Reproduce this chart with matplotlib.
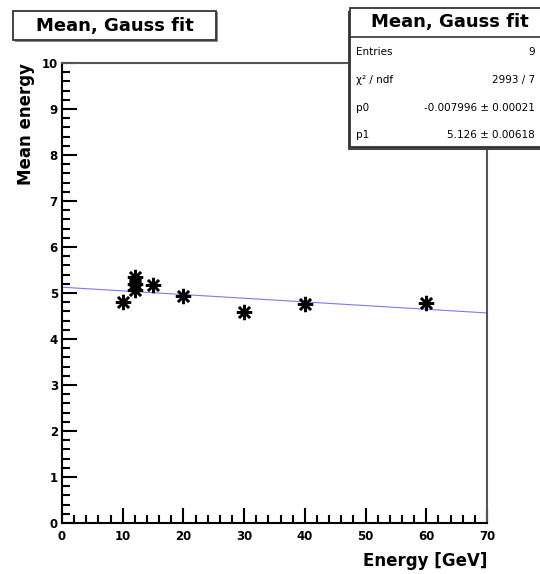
import matplotlib
matplotlib.use("Agg")
import matplotlib.pyplot as plt
from matplotlib.patches import Rectangle
from matplotlib.ticker import MultipleLocator
import numpy as np

# Measured mean energy per beam energy
energy = [10, 12, 12, 12, 15, 20, 30, 40, 60]
mean_energy = [4.80, 5.34, 5.20, 5.07, 5.17, 4.94, 4.58, 4.76, 4.78]

# Linear fit parameters: y = p1 + p0 * x
p0 = -0.007996
p1 = 5.126
entries = 9
chi2_ndf = "2993 / 7"
p0_text = "-0.007996 \u00b1 0.00021"
p1_text = "5.126 \u00b1 0.00618"

plt.rcParams['font.family'] = ['DejaVu Sans']

W, H = 540, 574
fig = plt.figure(figsize=(W / 100, H / 100), dpi=100)
ax = fig.add_axes([62 / W, 1 - 523 / H, (487 - 62) / W, (523 - 63) / H])

ax.set_xlim(0, 70)
ax.set_ylim(0, 10)

xfit = np.linspace(0, 70, 200)
ax.plot(xfit, p1 + p0 * xfit, color='#7a7af0', lw=0.8, zorder=2)

ax.plot(energy, mean_energy, linestyle='none', marker=(8, 2, 0),
        markersize=11, markeredgewidth=1.8, color='black', zorder=3)

ax.xaxis.set_major_locator(MultipleLocator(10))
ax.xaxis.set_minor_locator(MultipleLocator(2))
ax.yaxis.set_major_locator(MultipleLocator(1))
ax.yaxis.set_minor_locator(MultipleLocator(0.2))
ax.tick_params(which='both', direction='in', top=False, right=False,
               width=1.5, labelsize=8.5)
ax.tick_params(which='major', length=11)
ax.tick_params(which='minor', length=6)
ax.tick_params(axis='x', pad=5)
ax.tick_params(axis='y', pad=3)
for lbl in ax.get_xticklabels() + ax.get_yticklabels():
    lbl.set_fontweight('bold')
for s in ax.spines.values():
    s.set_linewidth(1.5)
ax.spines['right'].set_color('#555555')
ax.spines['top'].set_color('#555555')

ax.set_xlabel("Energy [GeV]", fontsize=12, fontweight='bold')
ax.xaxis.set_label_coords(1.0, -0.062)
ax.xaxis.label.set_horizontalalignment('right')
ax.set_ylabel("Mean energy", fontsize=12, fontweight='bold')
ax.yaxis.set_label_coords(-0.064, 1.0)
ax.yaxis.label.set_horizontalalignment('right')


def fx(px):
    return px / W


def fy(py):
    return 1 - py / H


# Title box at top left
fig.patches.append(Rectangle((fx(15), fy(42)), fx(218) - fx(15), fy(12) - fy(42),
                             transform=fig.transFigure, facecolor='#888888',
                             edgecolor='none', zorder=4))
fig.patches.append(Rectangle((fx(13), fy(40)), fx(216) - fx(13), fy(11) - fy(40),
                             transform=fig.transFigure, facecolor='white',
                             edgecolor='#333333', lw=1.3, zorder=5))
fig.text(fx(115), fy(25.5), "Mean, Gauss fit", ha='center', va='center',
         fontsize=13, fontweight='bold', zorder=6)

# Statistics box at top right
bx0, bx1, by0, by1 = 349, 545, 8, 147
fig.patches.append(Rectangle((fx(bx0 - 1), fy(by1 + 3)), fx(bx1) - fx(bx0 - 1),
                             fy(by0 + 3) - fy(by1 + 3), transform=fig.transFigure,
                             facecolor='#444444', edgecolor='none', zorder=4))
fig.patches.append(Rectangle((fx(bx0 + 1), fy(by1)), fx(bx1) - fx(bx0 + 1),
                             fy(by0) - fy(by1), transform=fig.transFigure,
                             facecolor='white', edgecolor='#333333', lw=1.3,
                             zorder=5))
fig.lines.append(plt.Line2D([fx(bx0 + 1), fx(bx1)], [fy(37), fy(37)],
                            transform=fig.transFigure, color='#333333', lw=1.2,
                            zorder=6))
fig.text(fx(450), fy(22.5), "Mean, Gauss fit", ha='center', va='center',
         fontsize=13, fontweight='bold', zorder=6)

rows = [("Entries", str(entries)),
        ("\u03c7\u00b2 / ndf", chi2_ndf),
        ("p0", p0_text),
        ("p1", p1_text)]
row_y = [52, 80, 108, 135]
for (name, val), yy in zip(rows, row_y):
    fig.text(fx(356), fy(yy), name, ha='left', va='center', fontsize=7.5,
             zorder=6)
    fig.text(fx(535), fy(yy), val, ha='right', va='center', fontsize=7.5,
             zorder=6)

fig.savefig("out.png", dpi=100, facecolor='white')
